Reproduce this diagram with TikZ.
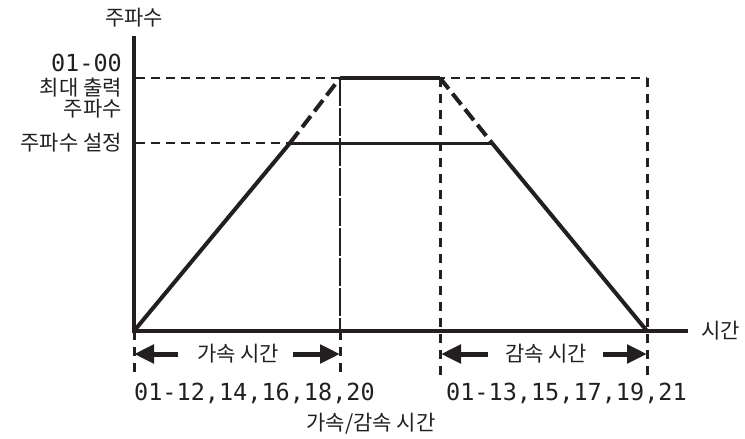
\documentclass[tikz,border=0pt]{standalone}
\usepackage{fontspec}
\setmainfont{Noto Sans CJK KR}
\newfontfamily\numfont{DejaVu Sans Mono}
\usetikzlibrary{arrows.meta}
\definecolor{ink}{HTML}{231F20}
\tikzset{
  ko/.style={font=\fontsize{21}{23}\selectfont, text=ink, inner sep=0pt},
  num/.style={font=\numfont\fontsize{23.5}{26}\selectfont, text=ink, inner sep=0pt},
  axisline/.style={draw=ink, line width=3.8pt},
  ramp/.style={draw=ink, line width=4pt},
  ramp dashed/.style={draw=ink, line width=4pt, dash pattern=on 14pt off 6pt},
  setline/.style={draw=ink, line width=3pt},
  thindash/.style={draw=ink, line width=1.8pt, dash pattern=on 9pt off 6pt},
  thinline/.style={draw=ink, line width=1.8pt, dash pattern=on 28pt off 2pt},
  thickdash/.style={draw=ink, line width=3pt, dash pattern=on 8.5pt off 7.5pt},
  arr/.style={draw=ink, line width=5pt, -{Triangle[length=20pt,width=18pt]}},
}
\begin{document}
\begin{tikzpicture}[x=1pt,y=-1pt]
\useasboundingbox (0,0) rectangle (745,439);
% coordinates
\coordinate (O) at (134,331);
\coordinate (ytop) at (134,36);
\coordinate (xend) at (688,331);
\coordinate (A) at (290,143);
\coordinate (B) at (340,78);
\coordinate (C) at (440,78);
\coordinate (D) at (492,143);
\coordinate (E) at (647,331);
\coordinate (ymax) at (136,78);
\coordinate (yset) at (136,143);
\coordinate (Rtop) at (647,78);
\coordinate (Bbot) at (340,331);
\coordinate (Bend) at (340,377);
\coordinate (Cend) at (440,379);
\coordinate (Eend) at (647,379);
\coordinate (Oend) at (134,377);
% arrow coordinates
\coordinate (a1s) at (178,354);
\coordinate (a1e) at (134,354);
\coordinate (a2s) at (293,354);
\coordinate (a2e) at (340,354);
\coordinate (a3s) at (488,354);
\coordinate (a3e) at (441,354);
\coordinate (a4s) at (603,354);
\coordinate (a4e) at (647,354);

% dashed guides
\draw[thindash] (ymax) -- (Rtop);
\draw[thindash] (yset) -- (A);
\draw[thinline] (B) -- (Bbot);
\draw[thickdash] (Bbot) -- (Bend);
\draw[thickdash] (C) -- (Cend);
\draw[thickdash] (Rtop) -- (Eend);
\draw[thickdash] (O) -- (Oend);

% profile
\draw[ramp] (O) -- (A);
\draw[ramp dashed] (A) -- (B);
\draw[ramp, line width=4.5pt] (B) -- (C);
\draw[ramp dashed] (C) -- (D);
\draw[ramp] (D) -- (E);
\draw[setline] (A) -- (D);

% axes
\draw[axisline] (ytop) -- (134,333);
\draw[axisline] (132,331) -- (xend);

% arrows
\draw[arr] (a1s) -- (a1e);
\draw[arr] (a2s) -- (a2e);
\draw[arr] (a3s) -- (a3e);
\draw[arr] (a4s) -- (a4e);

% labels
\node[ko] (lfreq) at (134,18) {주파수};
\node[num, anchor=east] (lmaxnum) at (122,63) {01-00};
\node[ko, anchor=east] (lmax1) at (122,88) {최대 출력};
\node[ko, anchor=east] (lmax2) at (122,109) {주파수};
\node[ko, anchor=east] (lset) at (122,143) {주파수 설정};
\node[ko, anchor=west] (ltime) at (701,331) {시간};
\node[ko] (lacc) at (238,354) {가속 시간};
\node[ko] (ldec) at (546,354) {감속 시간};
\node[num, anchor=west] (naccp) at (134,393) {01-12,14,16,18,20};
\node[num, anchor=west] (ndecp) at (446,393) {01-13,15,17,19,21};
\node[ko] (lboth) at (371,424) {가속/감속 시간};
\end{tikzpicture}
\end{document}
